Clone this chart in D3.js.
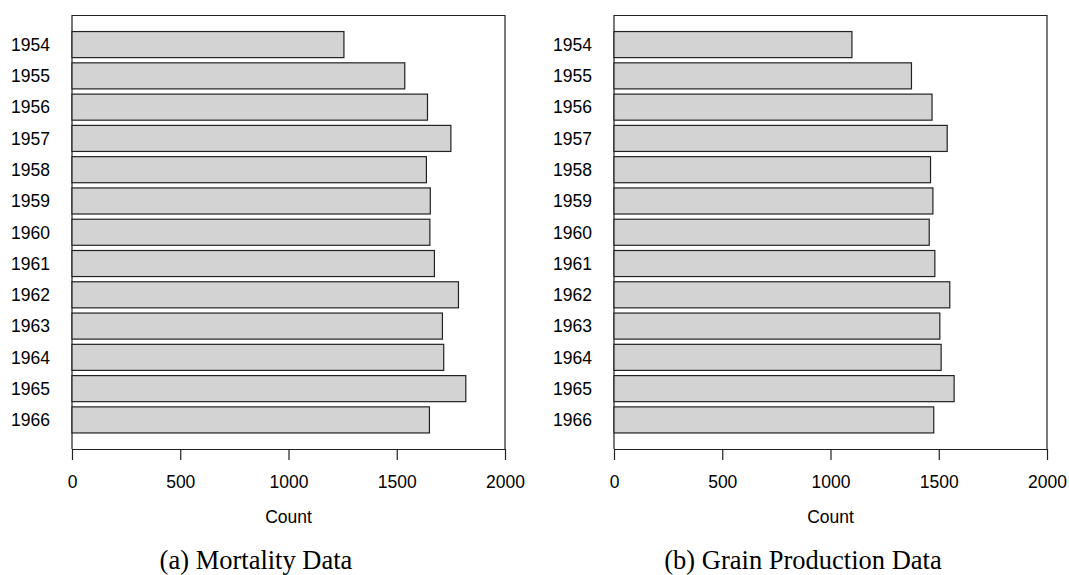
<!DOCTYPE html>
<html>
<head>
<meta charset="utf-8">
<script src="https://cdn.jsdelivr.net/npm/d3@7"></script>
<style>
  html, body { margin: 0; padding: 0; background: #fff; }
  svg { display: block; }
</style>
</head>
<body>
<svg id="chart" width="1069" height="575"></svg>
<script>
// Yearly totals, 1954–1966
const years = ["1954","1955","1956","1957","1958","1959","1960","1961","1962","1963","1964","1965","1966"];
const mortality = [1256, 1537, 1642, 1750, 1637, 1655, 1653, 1674, 1785, 1711, 1717, 1819, 1651];
const grain = [1099, 1374, 1469, 1539, 1462, 1473, 1456, 1482, 1551, 1505, 1511, 1571, 1477];
const xTicks = [0, 500, 1000, 1500, 2000];
const xMax = 2000;
const axisTitle = "Count";
const captions = ["(a) Mortality Data", "(b) Grain Production Data"];

const svg = d3.select("#chart");

const panels = [
  { values: mortality, left: 72, right: 505, caption: captions[0], captionX: 256 },
  { values: grain, left: 614, right: 1047, caption: captions[1], captionX: 803 }
];

const plotTop = 15.5, plotBottom = 449;
const sansFont = "'Liberation Sans', Arial, Helvetica, sans-serif";
const serifFont = "'Liberation Serif', 'Times New Roman', Times, serif";
const ink = "#222";

panels.forEach(p => {
  const g = svg.append("g");

  const x = d3.scaleLinear().domain([0, xMax]).range([p.left, p.right]);
  const y = d3.scaleBand()
    .domain(years)
    .range([plotTop, plotBottom])
    .paddingInner(1 / 6)
    .paddingOuter(0.5133);

  // frame: left, top and right sides
  g.append("path")
    .attr("d", `M${p.left},${plotBottom}V${plotTop}H${p.right}V${plotBottom}`)
    .attr("fill", "none")
    .attr("stroke", ink)
    .attr("stroke-width", 1.2);

  // bars
  g.selectAll("rect.bar")
    .data(years.map((yr, i) => ({ yr, v: p.values[i] })))
    .join("rect")
    .attr("class", "bar")
    .attr("x", x(0))
    .attr("y", d => y(d.yr))
    .attr("width", d => x(d.v) - x(0))
    .attr("height", y.bandwidth())
    .attr("fill", "#d3d3d3")
    .attr("stroke", ink)
    .attr("stroke-width", 1.2);

  // year labels
  g.selectAll("text.year")
    .data(years)
    .join("text")
    .attr("class", "year")
    .attr("x", p.left - 22)
    .attr("y", d => y(d) + y.bandwidth() / 2)
    .attr("dy", "0.36em")
    .attr("text-anchor", "end")
    .attr("font-family", sansFont)
    .attr("font-size", 17.5)
    .attr("fill", "#000")
    .text(d => d);

  // x axis
  const axis = d3.axisBottom(x)
    .tickValues(xTicks)
    .tickFormat(d3.format("d"))
    .tickSizeInner(11)
    .tickSizeOuter(0)
    .tickPadding(15.5);

  const ax = g.append("g")
    .attr("transform", `translate(0,${plotBottom})`)
    .call(axis);
  ax.select(".domain").attr("stroke", ink).attr("stroke-width", 1.2);
  ax.selectAll(".tick line").attr("stroke", ink).attr("stroke-width", 1.2);
  ax.selectAll(".tick text")
    .attr("font-family", sansFont)
    .attr("font-size", 17.5)
    .attr("fill", "#000");

  // axis title
  g.append("text")
    .attr("x", (p.left + p.right) / 2)
    .attr("y", 523)
    .attr("text-anchor", "middle")
    .attr("font-family", sansFont)
    .attr("font-size", 17.5)
    .attr("fill", "#000")
    .text(axisTitle);

  // panel caption
  g.append("text")
    .attr("x", p.captionX)
    .attr("y", 569)
    .attr("text-anchor", "middle")
    .attr("font-family", serifFont)
    .attr("font-size", 26.5)
    .attr("fill", "#000")
    .text(p.caption);
});
</script>
</body>
</html>
